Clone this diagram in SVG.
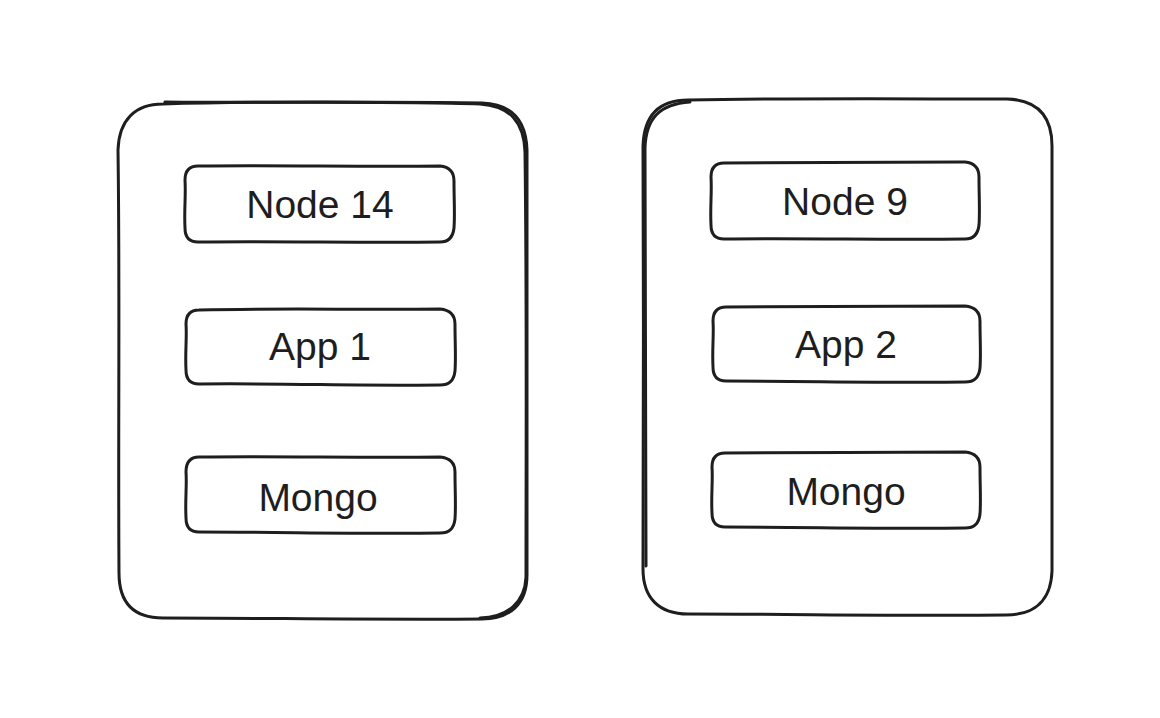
<svg xmlns="http://www.w3.org/2000/svg" width="1160" height="718" viewBox="0 0 1160 718">
<style>
.o{fill:none;stroke:#1e1e1e;stroke-width:3;stroke-linecap:round;stroke-linejoin:round}
.t{font-family:"Liberation Sans",Arial,sans-serif;font-size:39px;fill:#1e1e1e;text-anchor:middle}
</style>
<rect width="1160" height="718" fill="#ffffff"/>
<g id="server1">
<path class="o" d="M163,104 C260,101 390,102 482,103 C512,104 526,120 527,150 C526,300 528,450 527,575 C527,604 510,619 482,619 C380,620 260,618 163,618 C133,618 119,602 119,573 C118,430 120,290 118,150 C119,120 135,104 163,104 Z"/>
<path class="o" d="M165,102 C270,103 400,101 480,104 C510,106 524,122 525,152 C527,310 526,460 526,577 C525,602 508,617 480,618" stroke-width="1.5"/>
</g>
<g id="server2">
<path class="o" d="M688,100 C790,98 910,99 1007,99 C1037,100 1052,116 1052,146 C1052,300 1053,450 1052,571 C1051,600 1035,615 1006,615 C900,616 790,614 688,614 C659,614 643,598 643,569 C643,420 644,290 643,146 C644,116 659,100 688,100 Z"/>
<path class="o" d="M690,102 C660,104 646,118 645,148 C646,300 645,440 646,566" stroke-width="1.5"/>
</g>
<g id="node14">
<path class="o" d="M198,166 C280,165 360,167 440,166 C450,167 454,172 454,181 C454,200 455,215 454,228 C453,237 449,242 440,242 C360,243 280,241 198,242 C189,242 185,237 185,228 C184,210 186,195 185,180 C185,171 189,166 198,166 Z"/>
<text class="t" x="320" y="218">Node 14</text>
</g>
<g id="app1">
<path class="o" d="M199,310 C280,308 360,310 440,309 C450,310 455,315 455,324 C455,343 456,358 455,371 C454,380 450,385 440,385 C360,386 280,383 199,384 C190,384 186,379 186,370 C185,352 187,338 186,324 C186,315 190,310 199,310 Z"/>
<text class="t" x="320" y="360">App 1</text>
</g>
<g id="mongo1">
<path class="o" d="M199,457 C280,456 360,458 440,457 C450,458 455,463 455,472 C455,491 456,506 455,519 C454,528 450,533 440,533 C360,534 280,532 199,532 C190,532 186,527 186,518 C185,500 187,486 186,472 C186,463 190,457 199,457 Z"/>
<text class="t" x="318" y="511">Mongo</text>
</g>
<g id="node9">
<path class="o" d="M724,163 C805,162 885,163 965,162 C975,163 979,168 979,177 C979,196 980,211 979,225 C978,234 974,239 965,239 C885,240 805,238 724,239 C715,239 711,234 711,225 C710,207 712,192 711,177 C711,168 715,163 724,163 Z"/>
<text class="t" x="845" y="215">Node 9</text>
</g>
<g id="app2">
<path class="o" d="M726,307 C805,306 885,307 965,306 C975,307 980,312 980,321 C980,340 981,355 980,368 C979,377 975,382 965,382 C885,383 805,381 726,381 C717,381 713,376 713,367 C712,349 714,335 713,321 C713,312 717,307 726,307 Z"/>
<text class="t" x="846" y="358">App 2</text>
</g>
<g id="mongo2">
<path class="o" d="M725,453 C805,452 885,453 965,452 C975,453 980,458 980,467 C980,486 981,501 980,514 C979,523 975,528 965,528 C885,529 805,527 725,527 C716,527 712,522 712,513 C711,495 713,481 712,467 C712,458 716,453 725,453 Z"/>
<text class="t" x="846" y="505">Mongo</text>
</g>
<g id="connectors"></g>
</svg>
